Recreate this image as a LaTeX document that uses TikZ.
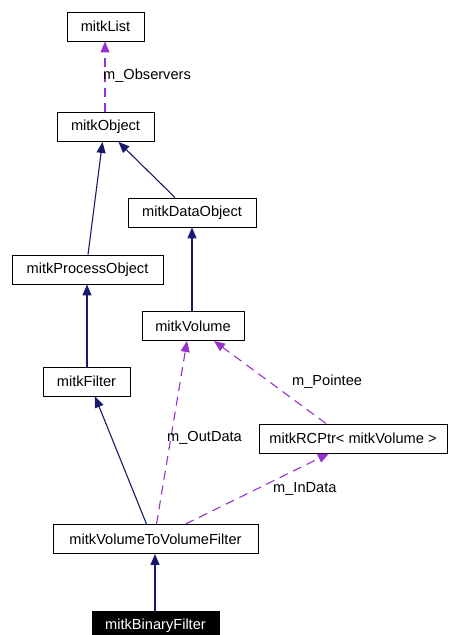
\documentclass[tikz,border=0pt]{standalone}
\usepackage{fontspec}
\setmainfont{Liberation Sans}
\usetikzlibrary{arrows.meta}
\definecolor{inhcol}{RGB}{25,25,112}
\definecolor{usecol}{RGB}{153,50,204}
\tikzset{
  cls/.style={draw=black, line width=0.9pt, fill=white, inner sep=0pt,
    minimum height=29pt, font=\fontsize{14.6}{17}\selectfont},
  leaf/.style={cls, fill=black, text=white},
  inh/.style={draw=inhcol, line width=1.1pt,
    -{Triangle[length=11pt,width=9pt,fill=inhcol]}},
  use/.style={draw=usecol, line width=1.1pt, dash pattern=on 9pt off 6pt,
    -{Triangle[length=11pt,width=9pt,fill=usecol]}},
  lbl/.style={font=\fontsize{14.6}{17}\selectfont, inner sep=0pt, anchor=west}
}
\begin{document}
\begin{tikzpicture}[x=1pt, y=-1pt]
\useasboundingbox (0,0) rectangle (449,635);
\fill[white] (0,0) rectangle (449,635);

% class boxes
\node[cls, minimum width=77pt]  (list) at (105.5,26.5) {mitkList};
\node[cls, minimum width=97pt]  (obj)  at (105.5,127)  {mitkObject};
\node[cls, minimum width=128pt] (data) at (192,212.5)  {mitkDataObject};
\node[cls, minimum width=151pt] (proc) at (87.5,269.5) {mitkProcessObject};
\node[cls, minimum width=102pt] (vol)  at (193,326)    {mitkVolume};
\node[cls, minimum width=87pt]  (filt) at (86.5,381.5) {mitkFilter};
\node[cls, minimum width=188pt] (rcp)  at (353,438.5)  {mitkRCPtr< mitkVolume >};
\node[cls, minimum width=205pt] (v2v)  at (155.5,539)  {mitkVolumeToVolumeFilter};
\node[leaf, minimum width=127pt] (bin) at (155.5,626)  {mitkBinaryFilter};

% inheritance
\draw[inh] ([xshift=0.5pt]proc.north) -- ([xshift=-3pt]obj.south);
\draw[inh] ([xshift=-17pt]data.north) -- ([xshift=13pt]obj.south);
\draw[inh] (vol.north -| data.south) -- (data.south);
\draw[inh] ([xshift=0.5pt]filt.north) -- ([xshift=0.5pt]filt.north |- proc.south);
\draw[inh] ([xshift=-9pt]v2v.north) -- ([xshift=8.5pt]filt.south);
\draw[inh] ([xshift=-0.5pt]bin.north) -- ([xshift=-0.5pt]v2v.south);

% usage relations
\draw[use] ([xshift=-0.5pt]obj.north) -- ([xshift=-0.5pt]list.south);
\draw[use] ([xshift=1pt]v2v.north) -- ([xshift=-6pt]vol.south);
\draw[use] ([xshift=30pt]v2v.north) -- ([xshift=-24pt]rcp.south);
\draw[use] ([xshift=-27pt]rcp.north) -- ([xshift=21pt]vol.south);

% relation labels
\node[lbl] (lobs) at (103,76)    {m\_Observers};
\node[lbl] (lout) at (167,438)   {m\_OutData};
\node[lbl] (lin)  at (273,489)   {m\_InData};
\node[lbl] (lpt)  at (292,382)   {m\_Pointee};
\end{tikzpicture}
\end{document}
